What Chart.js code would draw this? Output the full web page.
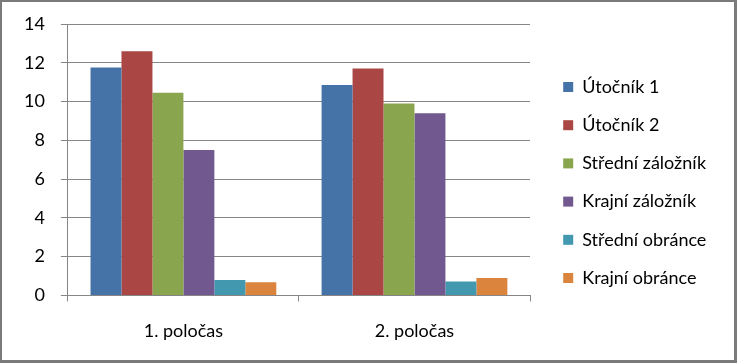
<!DOCTYPE html>
<html>
<head>
<meta charset="utf-8">
<script src="https://cdn.jsdelivr.net/npm/chart.js@4/dist/chart.umd.min.js"></script>
<style>
html,body{margin:0;padding:0;background:#fff;}
#wrap{position:absolute;left:0;top:0;width:732px;height:358px;border-style:solid;border-color:#7a7a7a;border-width:2px 3px 3px 2px;background:#fff;}
canvas{display:block;}
</style>
</head>
<body>
<div id="wrap"><canvas id="c" width="732" height="358"></canvas></div>
<script>
const categories = ["1. poločas", "2. poločas"];
const seriesNames = ["Útočník 1", "Útočník 2", "Střední záložník", "Krajní záložník", "Střední obránce", "Krajní obránce"];
const utocnik1 = [11.75, 10.85];
const utocnik2 = [12.6, 11.7];
const stredniZaloznik = [10.45, 9.9];
const krajniZaloznik = [7.5, 9.4];
const stredniObrance = [0.8, 0.72];
const krajniObrance = [0.68, 0.9];
const yTicks = [0, 2, 4, 6, 8, 10, 12, 14];
const colors = ["#4572A7", "#AA4643", "#89A54E", "#71588F", "#4198AF", "#DB843D"];

const values = [utocnik1, utocnik2, stredniZaloznik, krajniZaloznik, stredniObrance, krajniObrance];
const FONT = "Lato, 'Open Sans', sans-serif";
const FS = 18;

const legendFix = {
  id: 'legendFix',
  beforeLayout(chart) {
    const lg = chart.legend;
    if (lg && !lg._patched) {
      const f = lg.fit.bind(lg);
      lg.fit = function () { this.maxWidth = 1000; f(); this.width = 204; };
      lg._patched = true;
    }
  },
  afterLayout(chart) {
    const lg = chart.legend;
    if (lg) { lg.left += 13; lg.right += 13; lg.top -= 10; lg.bottom -= 10; }
  }
};

new Chart(document.getElementById('c'), {
  type: 'bar',
  data: {
    labels: categories,
    datasets: seriesNames.map((n, i) => ({
      label: n,
      data: values[i],
      backgroundColor: colors[i],
      borderWidth: 0,
      categoryPercentage: 0.804,
      barPercentage: 1.0
    }))
  },
  plugins: [legendFix],
  options: {
    responsive: false,
    animation: false,
    devicePixelRatio: 1,
    layout: { padding: { left: 6, top: 22, right: 0, bottom: -1 } },
    plugins: {
      tooltip: { enabled: false },
      legend: {
        position: 'right',
        align: 'center',
        labels: {
          font: { family: FONT, size: FS },
          color: '#000',
          boxWidth: 10,
          boxHeight: 10,
          padding: 20.2
        }
      }
    },
    scales: {
      x: {
        offset: true,
        grid: { display: true, drawOnChartArea: false, drawTicks: true, tickLength: 6, color: '#868686', offset: true },
        border: { display: true, color: '#868686', width: 1 },
        ticks: { font: { family: FONT, size: FS }, color: '#000', padding: 19 }
      },
      y: {
        min: 0, max: 14,
        afterBuildTicks: (s) => { s.ticks = yTicks.map(v => ({ value: v })); },
        afterFit: (s) => { s.paddingTop = 11; },
        grid: { color: '#868686', lineWidth: 1, drawTicks: true, tickLength: 7 },
        border: { display: true, color: '#868686', width: 1 },
        ticks: { font: { family: FONT, size: FS }, color: '#000', padding: 16 }
      }
    }
  }
});
</script>
</body>
</html>
